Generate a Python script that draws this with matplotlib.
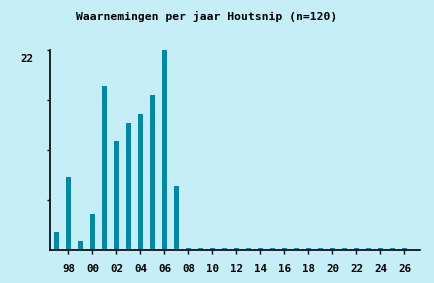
import numpy as np
import matplotlib
matplotlib.use('Agg')
import matplotlib.pyplot as plt
from matplotlib.transforms import blended_transform_factory

years = list(range(1997, 2027))
counts = [2, 8, 1, 4, 18, 12, 14, 15, 17, 22, 7] + [0] * 19
title = 'Waarnemingen per jaar Houtsnip (n=120)'

bg = '#c6eef7'
bar_col = '#0088a8'

fig = plt.figure(figsize=(4.35, 2.83), dpi=100, facecolor=bg)
ax = fig.add_axes([50 / 435, 33 / 283, 370 / 435, 200 / 283], facecolor=bg)

x = np.arange(len(years))
shown = np.maximum(np.array(counts, dtype=float), 0.2)  # nul-jaren als streepje
ax.bar(x, shown, width=0.42, color=bar_col)

ax.set_xlim(-0.54, 30.3)
ax.set_ylim(0, 22)

ax.spines['top'].set_visible(False)
ax.spines['right'].set_visible(False)
for s in ('left', 'bottom'):
    ax.spines[s].set_linewidth(1.2)

tick_pos = [i for i, y in enumerate(years) if y % 2 == 0]
ax.set_xticks(tick_pos)
ax.set_xticklabels(['%02d' % (years[i] % 100) for i in tick_pos],
                   family='DejaVu Sans Mono', fontsize=7.8, fontweight='bold')
ax.tick_params(axis='x', direction='out', length=3, width=1, pad=7)

ax.set_yticks([5.5, 11, 16.5, 22])
ax.set_yticklabels([])
ax.tick_params(axis='y', direction='out', length=2, width=1)

tr = blended_transform_factory(fig.transFigure, ax.transData)
ax.text(27 / 435, 21.05, '22', transform=tr, ha='center', va='center',
        family='DejaVu Sans Mono', fontsize=7.8, fontweight='bold')

fig.text(207 / 435, 1 - 16 / 283, title, ha='center', va='center',
         family='DejaVu Sans Mono', fontsize=8.2, fontweight='bold')

fig.savefig('out.png', dpi=100, facecolor=bg)
